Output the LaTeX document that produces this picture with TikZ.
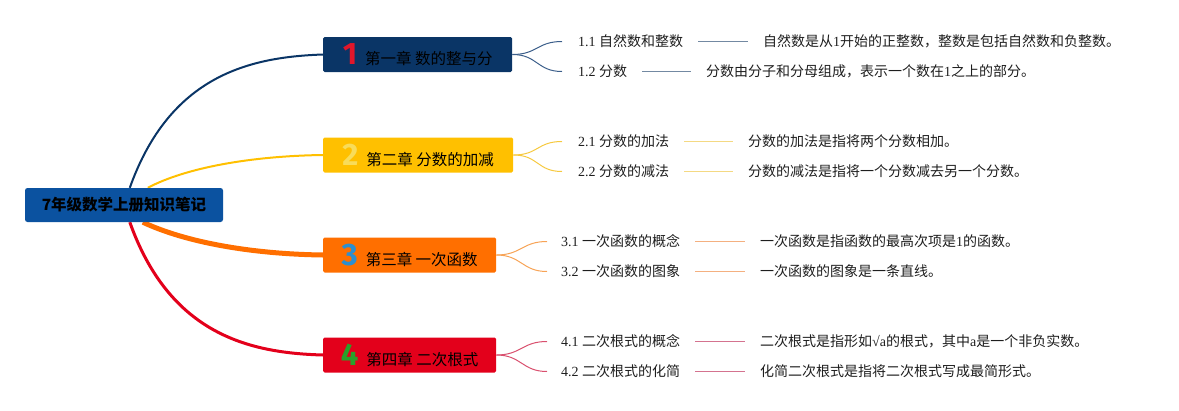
\documentclass[tikz,border=0pt]{standalone}
\usepackage{fontspec}
\setmainfont{Liberation Serif}
\newfontfamily\cjk{Noto Sans CJK SC}
\newfontfamily\numfont{Fira Sans}
\usetikzlibrary{calc}
\pgfdeclarelayer{bg}
\pgfsetlayers{bg,main}
\newcommand\zh[1]{{\cjk #1}}
\newcommand\dig[2]{{\numfont\bfseries\fontsize{31}{31}\selectfont\color{#1}#2}\hspace{8pt}}
\definecolor{rootblue}{HTML}{0B52A0}
\definecolor{navy}{HTML}{0A3566}
\definecolor{chyellow}{HTML}{FFC000}
\definecolor{chorange}{HTML}{FF6F00}
\definecolor{chred}{HTML}{E3001B}
\definecolor{numred}{HTML}{E0162B}
\definecolor{numyellow}{HTML}{F8DC5A}
\definecolor{numblue}{HTML}{2D8FD0}
\definecolor{numgreen}{HTML}{28A02A}
\definecolor{curveA}{HTML}{3B5E8A}
\definecolor{lineA}{HTML}{7389A2}
\definecolor{curveB}{HTML}{F6C93F}
\definecolor{lineB}{HTML}{F4D983}
\definecolor{curveC}{HTML}{F7A356}
\definecolor{lineC}{HTML}{F4B080}
\definecolor{curveD}{HTML}{D9506E}
\definecolor{lineD}{HTML}{D4738F}
\definecolor{subtext}{HTML}{1E1E1E}
\begin{document}
\begin{tikzpicture}[x=1pt,y=-1pt,
  rootbox/.style={fill=rootblue, rounded corners=2.5pt, minimum width=198pt, minimum height=34pt, inner sep=0pt, text=black, font=\cjk\bfseries\fontsize{15.5}{18}\selectfont},
  chapbox/.style={anchor=west, minimum height=35pt, inner sep=0pt, rounded corners=1.5pt, text=black, font=\cjk\fontsize{15.5}{18}\selectfont},
  sublabel/.style={anchor=west, inner sep=0pt, text=subtext, font=\fontsize{14}{16}\selectfont},
  subcurve/.style={line width=1pt},
  subline/.style={line width=1.8pt},
]
\useasboundingbox (0,0) rectangle (1179,410);

\node[rootbox] (root) at (124,205) {7年级数学上册知识笔记};

\node[chapbox, fill=navy, minimum width=189pt] (c1) at (323,54.5) {\dig{numred}{1}第一章 数的整与分};
\node[chapbox, fill=chyellow, minimum width=190pt] (c2) at (323,155) {\dig{numyellow}{2}第二章 分数的加减};
\node[chapbox, fill=chorange, minimum width=173pt] (c3) at (323,255) {\dig{numblue}{3}第三章 一次函数};
\node[chapbox, fill=chred, minimum width=173pt] (c4) at (323,355) {\dig{numgreen}{4}第四章 二次根式};

\begin{pgfonlayer}{bg}
\draw[navy, line width=2pt] ([xshift=105pt]root.north west) .. controls (170,75) and (250,57) .. (c1.west);
\draw[chyellow, line width=2pt] ([xshift=123pt]root.north west) .. controls (185,168) and (250,156) .. (c2.west);
\draw[chorange, line width=5pt] ([xshift=118pt]root.south west) .. controls (185,242) and (250,254) .. (c3.west);
\draw[chred, line width=3pt] ([xshift=105pt]root.south west) .. controls (170,335) and (250,353) .. (c4.west);
\end{pgfonlayer}

% chapter 1
\node[sublabel] (s11) at (578,41.5) {1.1 \zh{自然数和整数}};
\node[sublabel] (d11) at (763,41.5) {\zh{自然数是从}1\zh{开始的正整数，整数是包括自然数和负整数。}};
\node[sublabel] (s12) at (578,71.5) {1.2 \zh{分数}};
\node[sublabel] (d12) at (706,71.5) {\zh{分数由分子和分母组成，表示一个数在}1\zh{之上的部分。}};
% chapter 2
\node[sublabel] (s21) at (578,141.5) {2.1 \zh{分数的加法}};
\node[sublabel] (d21) at (748,141.5) {\zh{分数的加法是指将两个分数相加。}};
\node[sublabel] (s22) at (578,171.5) {2.2 \zh{分数的减法}};
\node[sublabel] (d22) at (748,171.5) {\zh{分数的减法是指将一个分数减去另一个分数。}};
% chapter 3
\node[sublabel] (s31) at (561,241.5) {3.1 \zh{一次函数的概念}};
\node[sublabel] (d31) at (760,241.5) {\zh{一次函数是指函数的最高次项是}1\zh{的函数。}};
\node[sublabel] (s32) at (561,271.5) {3.2 \zh{一次函数的图象}};
\node[sublabel] (d32) at (760,271.5) {\zh{一次函数的图象是一条直线。}};
% chapter 4
\node[sublabel] (s41) at (561,341.5) {4.1 \zh{二次根式的概念}};
\node[sublabel] (d41) at (760,341.5) {\zh{二次根式是指形如}√a\zh{的根式，其中}a\zh{是一个非负实数。}};
\node[sublabel] (s42) at (561,371.5) {4.2 \zh{二次根式的化简}};
\node[sublabel] (d42) at (760,371.5) {\zh{化简二次根式是指将二次根式写成最简形式。}};

% sub curves
\foreach \c/\s/\col in {c1/s11/curveA, c1/s12/curveA, c2/s21/curveB, c2/s22/curveB}{
  \draw[subcurve, \col] (\c.east) .. controls +(25,0) and +(-25,0) .. ([xshift=-16pt]\s.west);
}
\foreach \c/\s/\col in {c3/s31/curveC, c3/s32/curveC, c4/s41/curveD, c4/s42/curveD}{
  \draw[subcurve, \col] (\c.east) .. controls +(25,0) and +(-25,0) .. ([xshift=-14pt]\s.west);
}
% connector lines
\foreach \s/\d/\col in {s11/d11/lineA, s12/d12/lineA, s21/d21/lineB, s22/d22/lineB, s31/d31/lineC, s32/d32/lineC, s41/d41/lineD, s42/d42/lineD}{
  \draw[subline, \col] ([xshift=15pt]\s.east) -- ([xshift=-15pt]\d.west);
}
\end{tikzpicture}
\end{document}
